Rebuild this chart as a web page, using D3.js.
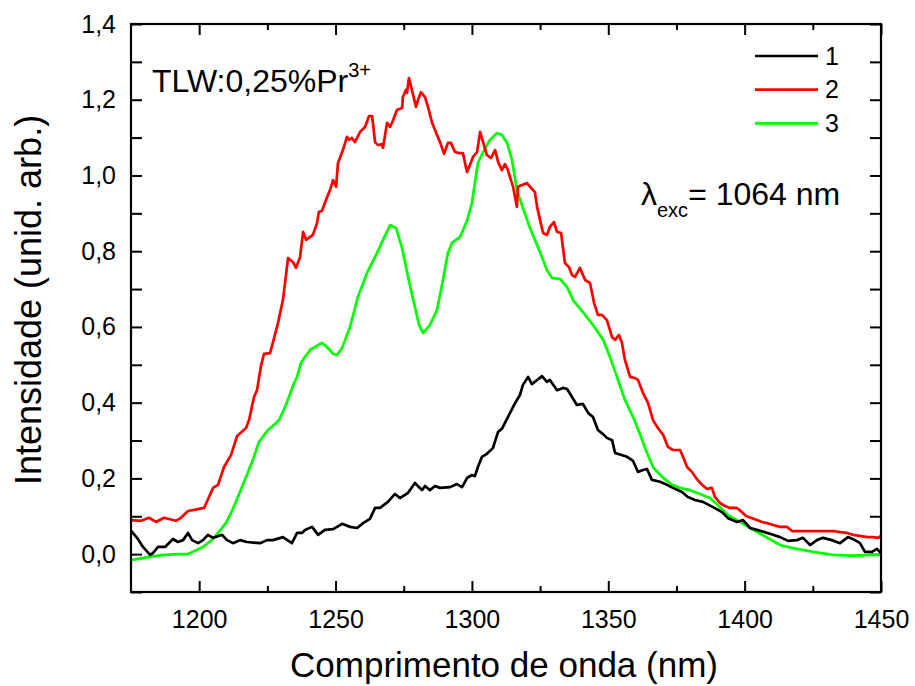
<!DOCTYPE html>
<html>
<head>
<meta charset="utf-8">
<script src="https://cdn.jsdelivr.net/npm/d3@7"></script>
<style>
  body { margin: 0; background: #fff; }
  svg text { font-family: "Liberation Sans", Arial, sans-serif; fill: #000; }
</style>
</head>
<body>
<div class="chart"></div>
<script>
// emission spectra, TLW:0,25%Pr3+ under 1064 nm excitation
var series1X = [1175.0,1177.2,1179.4,1182.0,1183.1,1184.9,1187.5,1189.3,1190.4,1192.2,1194.1,1195.9,1197.4,1199.6,1201.4,1203.2,1205.1,1208.4,1210.2,1212.4,1215.0,1217.5,1222.3,1224.9,1227.1,1230.7,1234.0,1235.9,1237.7,1238.8,1241.4,1243.6,1246.1,1249.1,1252.4,1255.3,1257.9,1260.1,1262.6,1264.5,1266.3,1269.2,1271.8,1273.6,1276.6,1279.1,1281.7,1282.8,1284.6,1286.5,1288.3,1292.0,1294.5,1296.4,1298.2,1300.0,1301.1,1302.2,1303.7,1305.5,1307.7,1309.6,1311.0,1313.2,1315.1,1316.5,1317.6,1318.7,1320.6,1322.0,1323.9,1325.7,1327.5,1328.6,1331.2,1333.4,1334.9,1336.7,1338.5,1340.7,1342.6,1344.4,1346.2,1348.1,1349.5,1351.4,1352.5,1356.9,1359.1,1360.9,1362.7,1364.2,1366.0,1369.0,1371.5,1373.7,1377.0,1379.2,1381.8,1384.7,1388.4,1391.7,1393.9,1397.2,1399.4,1402.0,1404.5,1407.5,1410.4,1413.0,1415.9,1419.2,1421.4,1424.0,1426.5,1428.7,1432.0,1435.0,1437.9,1440.5,1442.3,1444.1,1446.7,1448.5,1450.0];
var series1Y = [0.062,0.043,0.019,-0.002,0.003,0.019,0.019,0.032,0.040,0.032,0.037,0.056,0.037,0.029,0.037,0.051,0.043,0.051,0.037,0.029,0.037,0.032,0.029,0.037,0.037,0.045,0.029,0.056,0.056,0.064,0.072,0.051,0.064,0.066,0.080,0.072,0.069,0.082,0.093,0.122,0.122,0.138,0.159,0.148,0.162,0.188,0.169,0.180,0.169,0.180,0.175,0.177,0.185,0.177,0.201,0.209,0.206,0.230,0.257,0.265,0.280,0.323,0.331,0.362,0.389,0.407,0.420,0.447,0.468,0.449,0.460,0.470,0.455,0.460,0.433,0.439,0.436,0.415,0.394,0.397,0.373,0.362,0.328,0.317,0.307,0.301,0.267,0.257,0.246,0.217,0.222,0.225,0.196,0.191,0.183,0.175,0.164,0.151,0.143,0.138,0.124,0.111,0.095,0.085,0.090,0.069,0.064,0.058,0.051,0.045,0.035,0.037,0.043,0.024,0.037,0.043,0.037,0.029,0.045,0.037,0.029,0.006,0.006,0.014,0.003];

var series2X = [1175.0,1178.7,1181.6,1184.2,1187.1,1191.5,1193.3,1195.9,1199.6,1201.8,1205.1,1206.9,1209.1,1211.7,1213.9,1217.2,1218.3,1220.1,1221.2,1222.7,1223.8,1226.0,1228.9,1230.7,1232.6,1234.4,1235.5,1237.0,1238.1,1239.2,1241.7,1243.2,1243.9,1245.0,1246.5,1248.0,1249.1,1250.2,1250.9,1252.7,1254.2,1254.9,1256.0,1257.1,1259.0,1260.8,1262.3,1263.4,1264.5,1265.6,1267.0,1267.4,1268.9,1270.0,1271.1,1272.5,1274.4,1274.7,1275.8,1276.2,1276.9,1278.0,1279.5,1280.2,1281.3,1282.8,1283.9,1285.4,1287.2,1288.3,1289.8,1291.2,1292.3,1293.8,1295.3,1296.7,1298.2,1299.3,1300.4,1301.9,1303.0,1304.1,1305.5,1307.0,1308.5,1309.6,1311.0,1312.1,1313.2,1315.1,1316.5,1316.9,1318.4,1320.2,1321.7,1323.1,1323.9,1325.0,1326.1,1327.5,1328.6,1330.1,1331.2,1332.7,1334.1,1335.6,1336.7,1337.8,1339.6,1341.5,1343.3,1344.8,1346.2,1347.7,1349.5,1351.4,1352.5,1353.9,1355.0,1356.1,1358.0,1359.8,1360.9,1362.7,1364.6,1366.4,1368.2,1370.1,1371.9,1373.7,1376.3,1377.4,1378.9,1380.7,1382.5,1384.4,1386.2,1388.0,1389.1,1391.0,1392.8,1394.6,1397.2,1399.0,1400.5,1402.7,1404.5,1406.4,1408.2,1410.4,1413.0,1415.5,1417.4,1419.2,1422.9,1427.6,1432.4,1435.0,1437.5,1439.7,1442.3,1444.9,1447.1,1448.9,1450.0];
var series2Y = [0.090,0.088,0.096,0.085,0.096,0.088,0.096,0.114,0.119,0.122,0.175,0.183,0.230,0.262,0.312,0.333,0.354,0.415,0.433,0.499,0.529,0.531,0.610,0.671,0.782,0.771,0.756,0.785,0.851,0.830,0.843,0.874,0.904,0.906,0.935,0.962,0.988,0.970,1.033,1.067,1.102,1.094,1.099,1.088,1.115,1.128,1.157,1.157,1.088,1.080,1.083,1.073,1.139,1.128,1.146,1.173,1.178,1.207,1.226,1.218,1.257,1.226,1.181,1.199,1.220,1.207,1.181,1.139,1.107,1.088,1.057,1.086,1.086,1.062,1.059,1.059,1.009,1.028,1.049,1.062,1.115,1.088,1.054,1.046,1.067,1.036,1.014,1.030,1.014,0.970,0.917,0.970,0.975,0.980,0.967,0.956,0.917,0.882,0.848,0.843,0.864,0.877,0.851,0.848,0.769,0.758,0.737,0.732,0.756,0.724,0.716,0.663,0.632,0.632,0.618,0.573,0.566,0.579,0.558,0.513,0.468,0.465,0.460,0.426,0.399,0.354,0.333,0.315,0.283,0.275,0.275,0.257,0.230,0.217,0.198,0.183,0.172,0.175,0.151,0.135,0.127,0.122,0.122,0.111,0.101,0.095,0.090,0.085,0.082,0.077,0.072,0.072,0.061,0.061,0.061,0.061,0.061,0.058,0.056,0.051,0.048,0.045,0.045,0.043,0.048];

var series3X = [1175.0,1181.2,1187.1,1192.6,1195.9,1198.1,1201.4,1204.3,1206.9,1209.8,1211.7,1214.2,1217.2,1219.7,1221.9,1225.2,1227.4,1229.3,1231.8,1234.8,1235.9,1237.3,1238.8,1241.0,1241.7,1245.0,1246.9,1249.1,1250.5,1252.4,1255.3,1258.2,1261.5,1265.2,1267.4,1270.0,1272.2,1274.4,1276.6,1279.1,1280.6,1282.1,1284.6,1287.2,1289.4,1291.2,1292.7,1295.6,1298.2,1300.0,1301.1,1302.2,1304.1,1306.6,1309.2,1311.0,1312.9,1314.7,1316.5,1318.7,1321.3,1323.9,1326.1,1327.5,1329.4,1332.3,1334.9,1337.1,1340.7,1344.4,1348.1,1350.6,1353.2,1356.1,1359.1,1361.6,1364.2,1366.4,1369.7,1373.4,1376.3,1380.0,1383.6,1387.3,1391.0,1393.9,1398.3,1402.0,1406.7,1413.0,1417.7,1425.1,1432.4,1439.7,1447.1,1450.0];
var series3Y = [-0.016,-0.008,-0.002,0.000,0.000,0.008,0.019,0.035,0.056,0.082,0.109,0.151,0.204,0.249,0.296,0.328,0.341,0.354,0.394,0.452,0.468,0.505,0.521,0.542,0.544,0.558,0.547,0.529,0.526,0.544,0.600,0.679,0.742,0.795,0.830,0.869,0.861,0.808,0.732,0.653,0.605,0.584,0.605,0.645,0.724,0.795,0.822,0.837,0.880,0.927,0.980,1.033,1.062,1.094,1.112,1.107,1.086,1.041,0.962,0.914,0.861,0.816,0.777,0.750,0.729,0.727,0.705,0.671,0.639,0.605,0.566,0.521,0.468,0.407,0.362,0.317,0.267,0.230,0.204,0.183,0.175,0.169,0.159,0.148,0.124,0.103,0.085,0.069,0.050,0.024,0.016,0.006,-0.002,-0.004,-0.002,-0.002];

var seriesNames = ["1", "2", "3"];
var seriesColors = ["#000000", "#ff0000", "#00ff00"];
var xMajor = [1200, 1250, 1300, 1350, 1400, 1450];
var xMinor = [1225, 1275, 1325, 1375, 1425];
var yTicks = [0, 0.2, 0.4, 0.6, 0.8, 1.0, 1.2, 1.4];
var yMinor = [-0.1, 0.1, 0.3, 0.5, 0.7, 0.9, 1.1, 1.3];

var svgWidth = 915;
var svgHeight = 686;

var margin = { top: 24, right: 34, bottom: 94, left: 131 };
var width = svgWidth - margin.left - margin.right;
var height = svgHeight - margin.top - margin.bottom;

var svg = d3.select(".chart")
  .append("svg")
  .attr("width", svgWidth)
  .attr("height", svgHeight);

var chartGroup = svg.append("g")
  .attr("transform", `translate(${margin.left}, ${margin.top})`);

var xScale = d3.scaleLinear().domain([1175, 1450]).range([0, width]);
var yScale = d3.scaleLinear().domain([-0.1, 1.4]).range([height, 0]);

var comma = d => d3.format(".1f")(d).replace(".", ",");

// axes: ticks point inwards on all four sides
function styleAxis(g) {
  g.select(".domain").remove();
  g.selectAll("line").attr("stroke", "#000").attr("stroke-width", 2);
  g.selectAll("text").style("font-size", "25px");
}

chartGroup.append("g")
  .attr("transform", `translate(0, ${height})`)
  .call(d3.axisBottom(xScale).tickValues(xMajor).tickSize(-11).tickPadding(18).tickFormat(d3.format("d")))
  .call(styleAxis);
chartGroup.append("g")
  .attr("transform", `translate(0, ${height})`)
  .call(d3.axisBottom(xScale).tickValues(xMinor).tickSize(-6).tickFormat(""))
  .call(styleAxis);
chartGroup.append("g")
  .call(d3.axisTop(xScale).tickValues(xMajor).tickSize(-11).tickFormat(""))
  .call(styleAxis);
chartGroup.append("g")
  .call(d3.axisTop(xScale).tickValues(xMinor).tickSize(-6).tickFormat(""))
  .call(styleAxis);

chartGroup.append("g")
  .call(d3.axisLeft(yScale).tickValues(yTicks).tickSize(-11).tickPadding(15).tickFormat(comma))
  .call(styleAxis);
chartGroup.append("g")
  .call(d3.axisLeft(yScale).tickValues(yMinor).tickSize(-11).tickFormat(""))
  .call(styleAxis);
chartGroup.append("g")
  .attr("transform", `translate(${width}, 0)`)
  .call(d3.axisRight(yScale).tickValues(yTicks.concat(yMinor)).tickSize(-11).tickFormat(""))
  .call(styleAxis);

// lines
var line = d3.line()
  .x(d => xScale(d[0]))
  .y(d => yScale(d[1]));

var allSeries = [
  d3.zip(series1X, series1Y),
  d3.zip(series2X, series2Y),
  d3.zip(series3X, series3Y)
];

// draw green first, then red, black on top like the picture
[2, 1, 0].forEach(function(i) {
  chartGroup.append("path")
    .datum(allSeries[i])
    .attr("fill", "none")
    .attr("stroke", seriesColors[i])
    .attr("stroke-width", 2.7)
    .attr("stroke-linejoin", "round")
    .attr("d", line);
});

// frame
chartGroup.append("rect")
  .attr("width", width)
  .attr("height", height)
  .attr("fill", "none")
  .attr("stroke", "#000")
  .attr("stroke-width", 2.2);

// legend
var legend = chartGroup.append("g")
  .attr("transform", `translate(${755 - margin.left}, ${56 - margin.top})`);
seriesNames.forEach(function(name, i) {
  legend.append("line")
    .attr("x1", 0).attr("x2", 63)
    .attr("y1", i * 33.7).attr("y2", i * 33.7)
    .attr("stroke", seriesColors[i])
    .attr("stroke-width", 2.7);
  legend.append("text")
    .attr("x", 70)
    .attr("y", i * 33.7)
    .attr("dy", "0.35em")
    .style("font-size", "25px")
    .text(name);
});

// annotations
var tlw = svg.append("text")
  .attr("x", 152)
  .attr("y", 92)
  .style("font-size", "32px");
tlw.append("tspan").text("TLW:0,25%Pr");
tlw.append("tspan").attr("dy", -15).style("font-size", "20px").text("3+");

var lam = svg.append("text")
  .attr("x", 641)
  .attr("y", 205)
  .style("font-size", "32px");
lam.append("tspan").text("λ");
lam.append("tspan").attr("dy", 12).style("font-size", "20px").text("exc");
lam.append("tspan").attr("dy", -12).text("= 1064 nm");

// axis titles
svg.append("text")
  .attr("transform", `translate(${margin.left + width / 2 - 2}, 677)`)
  .attr("text-anchor", "middle")
  .style("font-size", "35px")
  .text("Comprimento de onda (nm)");

svg.append("text")
  .attr("transform", `translate(41, ${margin.top + height / 2 - 8}) rotate(-90)`)
  .attr("text-anchor", "middle")
  .style("font-size", "36px")
  .text("Intensidade (unid. arb.)");
</script>
</body>
</html>
